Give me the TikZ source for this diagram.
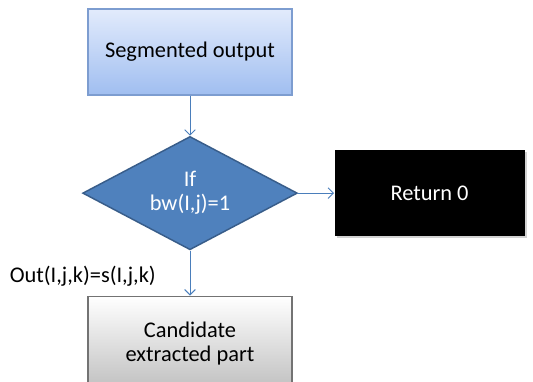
\documentclass[tikz,border=0pt]{standalone}
\usepackage{fontspec}
\setmainfont{Carlito}
\usetikzlibrary{arrows.meta,positioning,shapes.geometric,shadows}

\definecolor{segtop}{RGB}{226,235,252}
\definecolor{segbot}{RGB}{160,190,240}
\definecolor{segline}{RGB}{125,157,208}
\definecolor{condfill}{RGB}{79,129,189}
\definecolor{condline}{RGB}{56,93,138}
\definecolor{arrowblue}{RGB}{74,126,187}

\begin{document}
\begin{tikzpicture}[->,>={Straight Barb[length=4pt,width=8pt]},line width=0.75pt,x=0.75pt,y=-0.75pt,
  every node/.style={font=\fontsize{16.8}{18}\selectfont,align=center},
  segbox/.style={rectangle,draw=segline,line width=1.1pt,top color=segtop,bottom color=segbot,minimum width=153pt,minimum height=64.5pt},
  cond/.style={diamond,aspect=1.9,draw=condline,line width=1.1pt,fill=condfill,text=white,inner sep=1pt,minimum width=161pt,minimum height=85pt},
  retbox/.style={rectangle,fill=black,text=white,minimum width=142.5pt,minimum height=65pt,drop shadow={shadow xshift=1.5pt,shadow yshift=-1.5pt,opacity=0.35}},
  candbox/.style={rectangle,draw=black!55,line width=1.1pt,top color=white,bottom color=black!25,minimum width=153pt,minimum height=70.5pt},
  link/.style={draw=arrowblue}]
  \useasboundingbox[fill=white] (0,0) rectangle (533,382);
  \node[segbox] (seg) at (190,52) {Segmented output};
  \node[cond] (cond) [below=30pt of seg] {If\\bw(I,j)=1};
  \node[retbox] (ret) [right=27pt of cond] {Return 0};
  \node[candbox] (cand) [below=33.75pt of cond] {Candidate\\extracted part};
  \path (seg) edge[link] (cond);
  \path (cond) edge[link] (ret);
  \path (cond) edge[link] node[pos=0.58,left=22pt] {Out(I,j,k)=s(I,j,k)} (cand);
\end{tikzpicture}
\end{document}
